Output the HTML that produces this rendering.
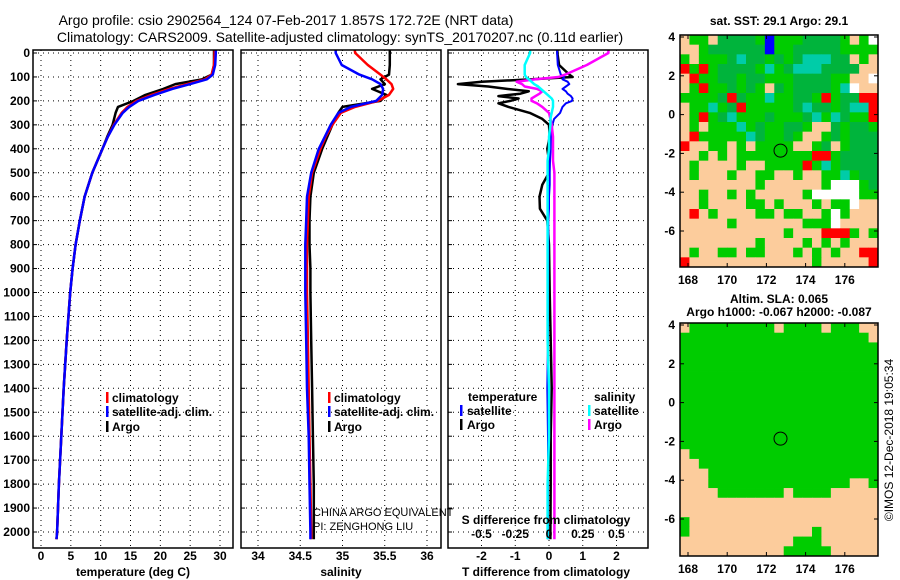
<!DOCTYPE html>
<html><head><meta charset="utf-8"><style>
html,body{margin:0;padding:0;background:#fff;}
svg{display:block;font-family:"Liberation Sans",sans-serif;}
.t{font-size:12px;font-weight:bold;fill:#000;}
.ttl{font-size:14px;font-weight:normal;fill:#000;}
.g{stroke:#000;stroke-width:1;stroke-dasharray:1,4;}
</style></head><body>
<svg id="svg" width="900" height="580" viewBox="0 0 900 580" xmlns="http://www.w3.org/2000/svg">
<rect width="900" height="580" fill="#fff"/>
<text class="ttl" x="286" y="25" text-anchor="middle">Argo profile: csio 2902564_124 07-Feb-2017 1.857S 172.72E (NRT data)</text>
<text class="ttl" x="340" y="42" text-anchor="middle">Climatology: CARS2009. Satellite-adjusted climatology: synTS_20170207.nc (0.11d earlier)</text>
<g id="p1"></g>
<g id="p2"></g>
<g id="p3"></g>
<g id="m1"></g>
<g id="m2"></g>
<text class="t" x="779" y="25" text-anchor="middle">sat. SST: 29.1 Argo: 29.1</text>
<text class="t" x="779" y="303" text-anchor="middle">Altim. SLA: 0.065</text>
<text class="t" x="779" y="316" text-anchor="middle">Argo h1000: -0.067 h2000: -0.087</text>
<text font-size="12" transform="translate(893,440) rotate(-90)" text-anchor="middle">©IMOS 12-Dec-2018 19:05:34</text>
<text font-size="11" x="313" y="516">CHINA ARGO EQUIVALENT</text>
<text font-size="11" x="313" y="530">PI: ZENGHONG LIU</text>
</svg>
<script>
const depths=[-65,0,50,90,110,130,150,175,200,225,250,300,350,400,500,600,700,800,900,1000,1200,1400,1600,1800,2000,2030];
const tempClim=[29.1,29.1,29.0,28.6,27.5,24.5,21.5,18.5,16.0,14.5,13.5,12.2,11.2,10.3,8.6,7.3,6.5,5.8,5.3,4.9,4.3,3.8,3.4,3.0,2.7,2.6];
const tempSat=[29.3,29.3,29.2,28.8,27.8,25.0,22.0,19.0,16.3,14.8,13.7,12.3,11.2,10.3,8.6,7.3,6.5,5.8,5.3,4.9,4.3,3.8,3.4,3.0,2.7,2.6];
const tempArgo=[29.0,29.0,29.0,28.6,27.0,22.5,20.5,17.5,15.5,12.9,12.5,12.0,11.1,10.3,8.6,7.3,6.5,5.8,5.3,4.9,4.3,3.8,3.4,3.0,2.7,2.6];
const salClim=[35.12,35.15,35.3,35.45,35.52,35.58,35.6,35.55,35.42,35.15,34.98,34.88,34.8,34.74,34.64,34.6,34.59,34.58,34.58,34.58,34.59,34.6,34.61,34.62,34.63,34.63];
const salSat=[34.92,34.92,34.99,35.2,35.35,35.45,35.48,35.47,35.4,35.1,34.95,34.86,34.79,34.72,34.63,34.58,34.57,34.56,34.56,34.56,34.57,34.58,34.6,34.61,34.62,34.62];
const salArgo=[35.56,35.56,35.56,35.55,35.45,35.5,35.35,35.52,35.45,35.0,34.95,34.88,34.82,34.76,34.66,34.62,34.61,34.61,34.62,34.62,34.63,34.64,34.65,34.66,34.66,34.66];
const dDepth=[-65,0,50,90,100,110,120,130,140,150,160,170,180,190,200,210,225,250,275,300,350,400,450,500,550,600,650,700,800,1000,1200,1400,1600,1800,2000,2030];
const dTArgo=[0.25,0.25,0.3,0.6,0.7,-0.5,-2.0,-2.7,-1.8,-1.25,-0.6,-0.85,-1.5,-0.9,-1.15,-1.5,-1.2,-0.57,-0.2,0,0.02,-0.05,0,0,-0.2,-0.28,-0.27,-0.05,0,0.02,0.05,0.08,0.05,0.05,0.04,0.04];
const dTSat=[0.24,0.24,0.26,0.35,0.45,0.4,0.55,0.6,0.5,0.4,0.5,0.55,0.65,0.7,0.68,0.5,0.4,0.33,0.15,0.1,0.06,0.05,0.03,0.02,0.02,0,0,-0.02,-0.02,-0.03,-0.03,-0.05,-0.03,-0.03,-0.03,-0.03];
const dSArgo=[0.44,0.44,0.28,0.12,0.07,-0.1,-0.24,-0.2,-0.18,-0.09,-0.05,-0.07,-0.1,-0.13,-0.13,-0.09,-0.05,0,0.01,0.02,0.03,0.03,0.03,0.04,0.04,0.04,0.04,0.04,0.04,0.04,0.04,0.04,0.04,0.04,0.04,0.04];
const dSSat=[-0.14,-0.14,-0.18,-0.18,-0.17,-0.15,-0.13,-0.11,-0.08,-0.06,-0.04,-0.02,0,0.02,0.03,0.03,0.03,0.02,0.01,0.01,0,0,-0.01,-0.01,-0.01,-0.01,-0.01,-0.01,-0.01,-0.01,-0.01,0,0,-0.01,-0.01,-0.01];
const depthTicks=[0,100,200,300,400,500,600,700,800,900,1000,1100,1200,1300,1400,1500,1600,1700,1800,1900,2000];
const tempTicks=[0,5,10,15,20,25,30];
const salTicks=[34,34.5,35,35.5,36];
const dTTicks=[-2,-1,0,1,2];
const dSTicks=[-0.5,-0.25,0,0.25,0.5];
const lonTicks=[168,170,172,174,176];
const latTicks=[4,2,0,-2,-4,-6];
const map1Rows=["pggpddddgbgggddddgpgw","ppgddddddbggdddddgggg","gpgggdcddgdgdcccddpgp","rgrgddddgcgdcccddddpp","prggddgddgggddddggppw","pgrggdgdgpdgddddgcwpp","ggggdrdggcggddgrgddrr","pggcgdrgggggdcddgdccr","pgrgdcgggdgggdcgcdggr","pgpgggcgdggddgppdgddg","prgggggcdggdgppgdgddd","rppggpgpggggppgdpgddd","ppgpgpggggggggrrgdddd","pgppppgppggggrgcgdddd","pgpppgppggppgppggcgdd","ppppppppgppppppgwwwgd","ppgppgpgpppppgwwwwwgg","ppgppppggpgpppgpggwpp","prpgppppggpggppgwgppp","pppppgpppppppgggwpppp","pppppppppppgppprrrgpg","ppppppppgppppgpgpgppp","pgppggpggpppgpgpgpprr","rpppppppppppppgppppprr"];
const map2Rows=["pgggggggggpggggpgggpp","ggggggggggggggggggggp","ggggggggggggggggggggg","ggggggggggggggggggggg","ggggggggggggggggggggg","ggggggggggggggggggggg","ggggggggggggggggggggg","ggggggggggggggggggggg","ggggggggggggggggggggg","ggggggggggggggggggggg","ggggggggggggggggggggg","ggggggggggggggggggggg","ggggggggggggggggggggg","pgggggggggggggggggggg","ppggggggggggggggggggg","pppgggggggggggggggggg","pppgggggggggggggggppg","ppppgggggggpggggppppp","ppppppppppppppppppppp","ppppppppppppppppppppp","gpppppppppppppppppppp","gpppppppppppppgpppppp","ppppppppppppgggpppppp","pppppppppppgggggppppp"];
const argoLon=172.72, argoLat=-1.857;

const NS="http://www.w3.org/2000/svg";
function mk(parent,tag,attrs){const e=document.createElementNS(NS,tag);for(const k in attrs)e.setAttribute(k,attrs[k]);parent.appendChild(e);return e;}
const PT=50,PB=548;
const yD=d=>53+d*0.2395;
function panel(g,x0,x1,xs,ticks,fmt,labelY,showDepth){
  ticks.forEach(t=>{const l=mk(g,'line',{x1:xs(t),x2:xs(t),y1:PT,y2:PB,class:'g'});
    if(labelY){const tx=mk(g,'text',{x:xs(t),y:labelY,class:'t','text-anchor':'middle'});tx.textContent=fmt(t);}});
  depthTicks.forEach(d=>{const l=mk(g,'line',{x1:x0,x2:x1,y1:yD(d),y2:yD(d),class:'g'});
    mk(g,'line',{x1:x0,x2:x0+4,y1:yD(d),y2:yD(d),stroke:'#000'});
    if(showDepth){const tx=mk(g,'text',{x:30,y:yD(d)+4,class:'t','text-anchor':'end'});tx.textContent=d;}});
}
function frame(g,x0,x1,y0,y1){const r=mk(g,'rect',{x:x0,y:y0,width:x1-x0,height:y1-y0,fill:'none',stroke:'#000','stroke-width':1.5});}
function clip(id,x0,x1,y0,y1){const svg=document.getElementById('svg');const c=mk(svg,'clipPath',{id:id});mk(c,'rect',{x:x0,y:y0,width:x1-x0,height:y1-y0});}
function line(g,xs,vals,ds,color,w,name,cl){const pts=vals.map((v,i)=>xs(v).toFixed(1)+','+yD(ds[i]).toFixed(1)).join(' ');const p=mk(g,'polyline',{points:pts,fill:'none',stroke:color,'stroke-width':w,'stroke-linejoin':'round','clip-path':'url(#'+cl+')'});}
function txt(g,x,y,s,name,anchor){const t=mk(g,'text',{x:x,y:y,class:'t','text-anchor':anchor||'start'});t.textContent=s;return t;}
function legBar(g,x,y,c){const r=mk(g,'rect',{x:x,y:y-10,width:2.5,height:11,fill:c});}

const p1=document.getElementById('p1');const xT=t=>41+t*5.967;
clip('c1',33,233,PT,PB);panel(p1,33,233,xT,tempTicks,String,560,true);
line(p1,xT,tempArgo,depths,'#000',2.5,'temp-argo-line','c1');
line(p1,xT,tempClim,depths,'#f00',2.5,'temp-climatology-line','c1');
line(p1,xT,tempSat,depths,'#00f',2.5,'temp-satellite-line','c1');
frame(p1,33,233,PT,PB);
txt(p1,133,576,'temperature (deg C)','x-axis-title','middle');
legBar(p1,106,402,'#f00');txt(p1,112,402,'climatology','legend-climatology');
legBar(p1,106,416,'#00f');txt(p1,112,416,'satellite-adj. clim.','legend-satellite');
legBar(p1,106,431,'#000');txt(p1,112,431,'Argo','legend-argo');

const p2=document.getElementById('p2');const xS=s=>258+(s-34)*84.5;
clip('c2',241,441,PT,PB);panel(p2,241,441,xS,salTicks,String,560,false);
line(p2,xS,salArgo,depths,'#000',2.5,'sal-argo-line','c2');
line(p2,xS,salClim,depths,'#f00',2.5,'sal-climatology-line','c2');
line(p2,xS,salSat,depths,'#00f',2.5,'sal-satellite-line','c2');
frame(p2,241,441,PT,PB);
txt(p2,341,576,'salinity','x-axis-title','middle');
legBar(p2,328,402,'#f00');txt(p2,334,402,'climatology','legend-climatology');
legBar(p2,328,416,'#00f');txt(p2,334,416,'satellite-adj. clim.','legend-satellite');
legBar(p2,328,431,'#000');txt(p2,334,431,'Argo','legend-argo');

const p3=document.getElementById('p3');const xdT=v=>549+v*33.75;const xdS=v=>549+v*135;
clip('c3',448,648,PT,PB);panel(p3,448,648,xdT,dTTicks,String,560,false);
line(p3,xdT,dTArgo,dDepth,'#000',2.5,'tdiff-argo-line','c3');
line(p3,xdT,dTSat,dDepth,'#00f',2,'tdiff-satellite-line','c3');
line(p3,xdS,dSArgo,dDepth,'#f0f',2.5,'sdiff-argo-line','c3');
line(p3,xdS,dSSat,dDepth,'#0ff',2.5,'sdiff-satellite-line','c3');
dSTicks.forEach(t=>{txt(p3,xdS(t),538,String(t),'s-tick-label','middle');});
txt(p3,546,524,'S difference from climatology','s-axis-title','middle');
frame(p3,448,648,PT,PB);
txt(p3,546,576,'T difference from climatology','t-axis-title','middle');
txt(p3,468,401,'temperature','legend-temp-header');
legBar(p3,460,415,'#00f');txt(p3,467,415,'satellite','legend-temp-satellite');
legBar(p3,460,429,'#000');txt(p3,467,429,'Argo','legend-temp-argo');
txt(p3,594,401,'salinity','legend-sal-header');
legBar(p3,588,415,'#0ff');txt(p3,594,415,'satellite','legend-sal-satellite');
legBar(p3,588,429,'#f0f');txt(p3,594,429,'Argo','legend-sal-argo');

const COL={g:'#00cc00',d:'#00b43c',c:'#00cca8',p:'#fccc9c',w:'#ffffff',r:'#ff0000',b:'#0000ff'};
function map(g,rows,y0,y1){
  const x0=680,x1=878;const lonX=l=>688+(l-168)*19.6;const latY=a=>(y0+2)+(4-a)*19.4;
  const nr=rows.length,nc=21;const cw=(x1-x0)/nc,ch=(y1-y0)/nr;
  rows.forEach((row,i)=>{for(let j=0;j<nc;j++){const c=row[j]||'p';const r=mk(g,'rect',{x:(x0+j*cw).toFixed(2),y:(y0+i*ch).toFixed(2),width:(cw+0.4).toFixed(2),height:(ch+0.4).toFixed(2),fill:COL[c]});}});
  const c=mk(g,'circle',{cx:lonX(argoLon),cy:latY(argoLat),r:6.5,fill:'none',stroke:'#000','stroke-width':1});
  lonTicks.forEach(l=>{txt(g,lonX(l),y1+17,String(l),'lon-tick-label','middle');mk(g,'line',{x1:lonX(l),x2:lonX(l),y1:y0,y2:y0+4,stroke:'#000'});mk(g,'line',{x1:lonX(l),x2:lonX(l),y1:y1,y2:y1-4,stroke:'#000'});});
  latTicks.forEach(a=>{txt(g,675,latY(a)+4,String(a),'lat-tick-label','end');mk(g,'line',{x1:x0,x2:x0+4,y1:latY(a),y2:latY(a),stroke:'#000'});mk(g,'line',{x1:x1,x2:x1-4,y1:latY(a),y2:latY(a),stroke:'#000'});});
  frame(g,x0,x1,y0,y1);
}
map(document.getElementById('m1'),map1Rows,35,267);
map(document.getElementById('m2'),map2Rows,323,556);
</script>
</body></html>
